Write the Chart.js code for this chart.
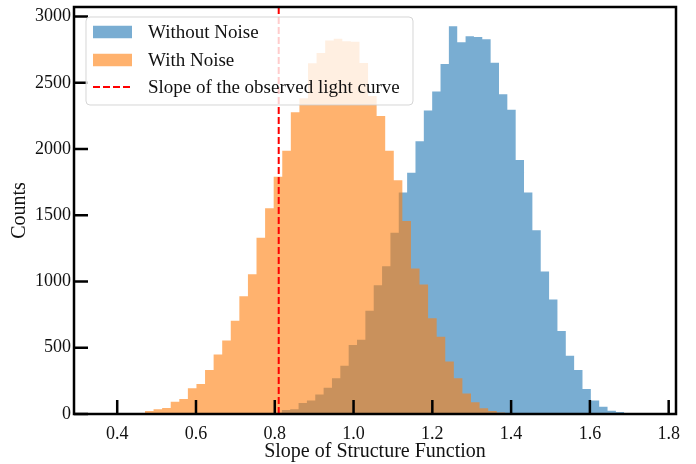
<!DOCTYPE html>
<html><head><meta charset="utf-8">
<script src="https://cdn.jsdelivr.net/npm/chart.js@4.4.0/dist/chart.umd.min.js"></script>
<style>html,body{margin:0;padding:0;background:#fff}#wrap{width:696px;height:464px}</style>
</head><body><div id="wrap"><canvas id="c" width="696" height="464"></canvas></div>
<script>
// ---- data ----
const seriesNames = ['Without Noise', 'With Noise', 'Slope of the observed light curve'];
const withoutNoiseBinStart = 0.7968;
const withoutNoiseBinWidth = 0.02120;
const withoutNoiseCounts = [10,30,35,83,101,148,199,270,364,520,561,780,972,1116,1368,1671,1820,2058,2290,2434,2641,2927,2805,2851,2846,2828,2652,2414,2296,1917,1671,1386,1076,864,626,439,333,189,101,55,25,15];
const withNoiseBinStart = 0.4705;
const withNoiseBinWidth = 0.02178;
const withNoiseCounts = [23,35,45,93,114,194,227,333,449,555,704,889,1055,1330,1553,1790,1987,2277,2383,2648,2724,2820,2833,2813,2810,2650,2400,2250,1987,1765,1457,1098,977,722,583,396,270,154,88,43,23,12];
const observedSlope = 0.81;
const xTickValues = [0.4, 0.6, 0.8, 1.0, 1.2, 1.4, 1.6, 1.8];
const xTickLabels = ['0.4', '0.6', '0.8', '1.0', '1.2', '1.4', '1.6', '1.8'];
const yTickValues = [0, 500, 1000, 1500, 2000, 2500, 3000];
const yTickLabels = ['0', '500', '1000', '1500', '2000', '2500', '3000'];
const xRange = [0.2903, 1.8186];
const yRange = [0, 3072];
const xTitle = 'Slope of Structure Function';
const yTitle = 'Counts';

// ---- styles ----
const blueFill = 'rgba(31,119,180,0.6)';
const orangeFill = 'rgba(255,127,14,0.6)';
const FONT = "'Liberation Serif', 'Times New Roman', serif";

function histPoints(start, width, counts) {
  const pts = counts.map((c, i) => ({x: start + i * width, y: c}));
  pts.push({x: start + counts.length * width, y: counts[counts.length - 1]});
  return pts;
}

const framePlugin = {
  id: 'frameTicks',
  afterDatasetsDraw(chart) {
    const {ctx, chartArea: a, scales} = chart;
    ctx.save();
    ctx.strokeStyle = '#000';
    ctx.lineWidth = 2.5;
    ctx.beginPath();
    scales.x.ticks.forEach(t => {
      const px = scales.x.getPixelForValue(t.value);
      ctx.moveTo(px, a.bottom); ctx.lineTo(px, a.bottom - 14);
    });
    scales.y.ticks.forEach(t => {
      const py = scales.y.getPixelForValue(t.value);
      ctx.moveTo(a.left, py); ctx.lineTo(a.left + 14, py);
    });
    ctx.stroke();
    ctx.strokeRect(a.left, a.top, a.right - a.left, a.bottom - a.top);
    ctx.restore();
  }
};

const legendPlugin = {
  id: 'mplLegend',
  afterDraw(chart) {
    const {ctx} = chart;
    const bx = 86, by = 17, bw = 327, bh = 88, r = 4;
    ctx.save();
    ctx.beginPath();
    ctx.roundRect(bx, by, bw, bh, r);
    ctx.fillStyle = 'rgba(255,255,255,0.8)';
    ctx.fill();
    ctx.strokeStyle = 'rgba(204,204,204,0.8)';
    ctx.lineWidth = 1;
    ctx.stroke();
    const rows = [32, 60, 87];
    const hx = 93, hw = 39, hh = 12.5;
    ctx.fillStyle = blueFill; ctx.fillRect(hx, rows[0] - hh / 2, hw, hh);
    ctx.fillStyle = orangeFill; ctx.fillRect(hx, rows[1] - hh / 2, hw, hh);
    ctx.beginPath();
    ctx.setLineDash([7, 3]);
    ctx.strokeStyle = '#ff0000';
    ctx.lineWidth = 2;
    ctx.moveTo(hx, rows[2]); ctx.lineTo(hx + hw, rows[2]);
    ctx.stroke();
    ctx.setLineDash([]);
    ctx.fillStyle = '#111';
    ctx.font = "19px " + FONT;
    ctx.textBaseline = 'middle';
    ctx.textAlign = 'left';
    seriesNames.forEach((n, i) => ctx.fillText(n, 148, rows[i] + 1));
    ctx.restore();
  }
};

new Chart(document.getElementById('c'), {
  type: 'line',
  data: {
    datasets: [
      {
        label: seriesNames[2],
        data: [{x: observedSlope, y: yRange[0]}, {x: observedSlope, y: yRange[1]}],
        borderColor: '#ff0000', borderWidth: 2, borderDash: [7, 3],
        pointRadius: 0, fill: false, order: 0
      },
      {
        label: seriesNames[1],
        data: histPoints(withNoiseBinStart, withNoiseBinWidth, withNoiseCounts),
        stepped: 'before', fill: 'origin', backgroundColor: orangeFill,
        borderColor: 'rgba(0,0,0,0)', borderWidth: 0, pointRadius: 0, order: 1
      },
      {
        label: seriesNames[0],
        data: histPoints(withoutNoiseBinStart, withoutNoiseBinWidth, withoutNoiseCounts),
        stepped: 'before', fill: 'origin', backgroundColor: blueFill,
        borderColor: 'rgba(0,0,0,0)', borderWidth: 0, pointRadius: 0, order: 2
      }
    ]
  },
  options: {
    responsive: false,
    animation: false,
    devicePixelRatio: 1,
    layout: {padding: {top: 7, right: 20, left: 0, bottom: 0}},
    plugins: {legend: {display: false}, tooltip: {enabled: false}},
    scales: {
      x: {
        type: 'linear', min: xRange[0], max: xRange[1],
        grid: {display: false, drawTicks: false},
        border: {display: false},
        afterBuildTicks: s => { s.ticks = xTickValues.map(v => ({value: v})); },
        ticks: {
          autoSkip: false, maxRotation: 0, padding: 9, color: '#111',
          font: {family: FONT, size: 18},
          callback: (v, i) => xTickLabels[i]
        },
        title: {display: true, text: xTitle, color: '#111', font: {family: FONT, size: 20}, padding: {top: 0, bottom: 0}},
        afterFit: s => { s.height = 50; s.paddingLeft = 0; s.paddingRight = 0; }
      },
      y: {
        type: 'linear', min: yRange[0], max: yRange[1],
        grid: {display: false, drawTicks: false},
        border: {display: false},
        afterBuildTicks: s => { s.ticks = yTickValues.map(v => ({value: v})); },
        ticks: {
          autoSkip: false, padding: 3, color: '#111',
          font: {family: FONT, size: 18},
          callback: (v, i) => yTickLabels[i]
        },
        title: {display: true, text: yTitle, color: '#111', font: {family: FONT, size: 20}, padding: {top: 8, bottom: 0}},
        afterFit: s => { s.width = 74; s.paddingTop = 0; s.paddingBottom = 0; }
      }
    }
  },
  plugins: [framePlugin, legendPlugin]
});
</script>
</body></html>
